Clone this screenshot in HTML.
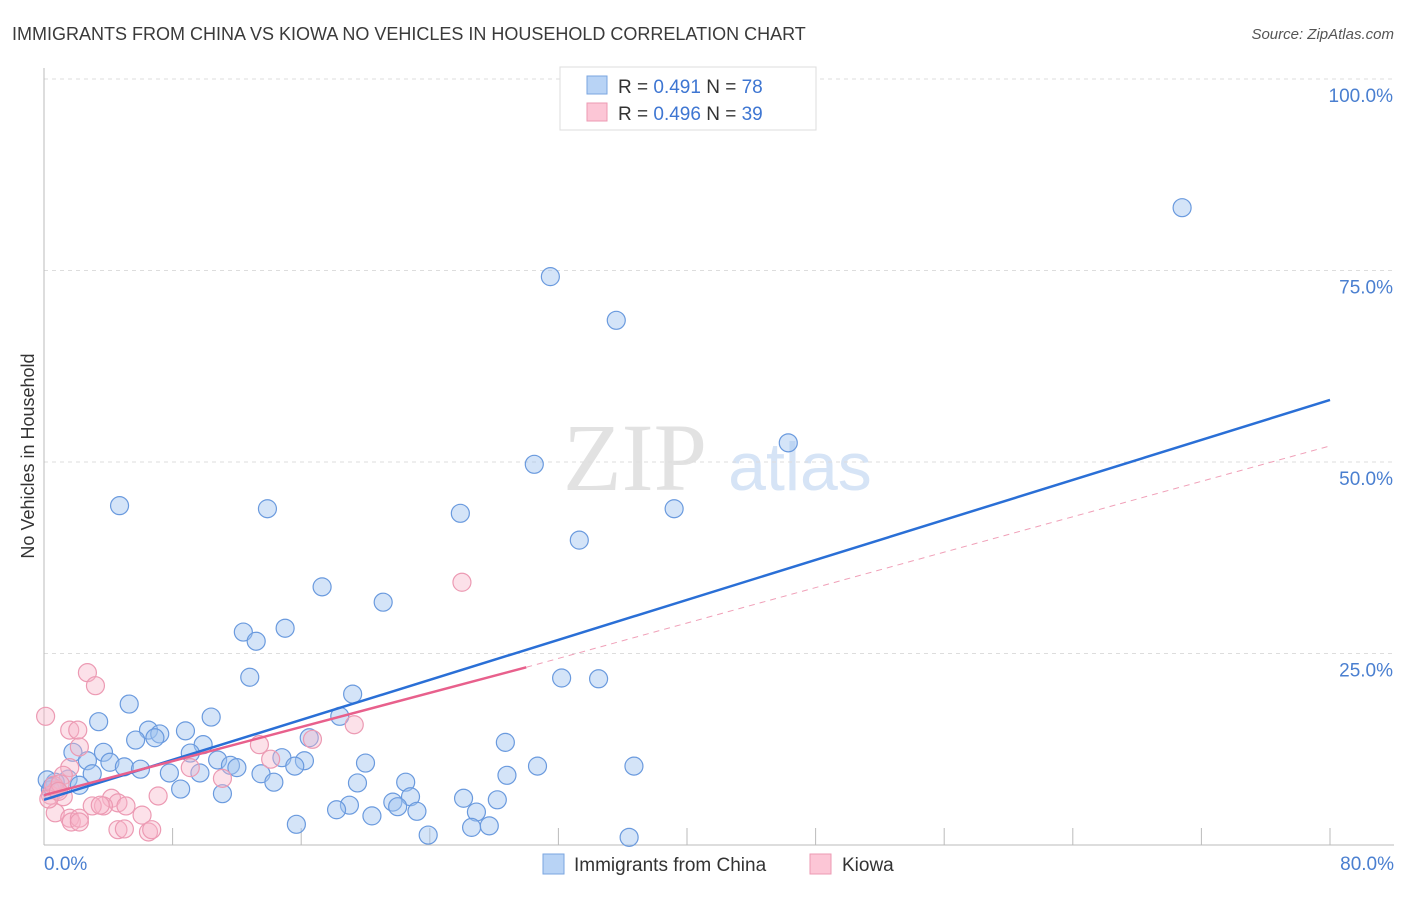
<!DOCTYPE html>
<html><head><meta charset="utf-8"><style>
body{margin:0;background:#fff;font-family:"Liberation Sans",sans-serif}
</style></head><body>
<svg width="1406" height="892" xmlns="http://www.w3.org/2000/svg" id="svg">
<text x="12" y="40" font-size="18" fill="#3a3a3a">IMMIGRANTS FROM CHINA VS KIOWA NO VEHICLES IN HOUSEHOLD CORRELATION CHART</text>
<text x="1394" y="39" font-size="15" fill="#555" font-style="italic" text-anchor="end">Source: ZipAtlas.com</text>
<text x="635" y="490" font-size="96" fill="#e2e2e2" font-family="Liberation Serif,serif" text-anchor="middle">ZIP</text>
<text x="800" y="490" font-size="68" fill="#d6e4f6" text-anchor="middle">atlas</text>
<g id="grid"></g><g id="pts"></g><g id="lines"></g>
<text transform="translate(34,456) rotate(-90)" font-size="18" fill="#333" text-anchor="middle">No Vehicles in Household</text>
<g>
<rect x="560" y="67" width="256" height="63" fill="#fff" stroke="#ddd"/>
<rect x="587" y="76" width="20" height="18" fill="#b8d3f5" stroke="#7aa6e0"/>
<rect x="587" y="103" width="20" height="18" fill="#fcc6d6" stroke="#ec9ab3"/>
<text x="618" y="93" font-size="19" fill="#333">R = <tspan fill="#3e76d2">0.491</tspan>   N = <tspan fill="#3e76d2">78</tspan></text>
<text x="618" y="120" font-size="19" fill="#333">R = <tspan fill="#3e76d2">0.496</tspan>   N = <tspan fill="#3e76d2">39</tspan></text>
</g>
<g>
<rect x="543" y="854" width="21" height="20" fill="#b8d3f5" stroke="#7aa6e0"/>
<text x="574" y="871" font-size="19" fill="#333">Immigrants from China</text>
<rect x="810" y="854" width="21" height="20" fill="#fcc6d6" stroke="#ec9ab3"/>
<text x="842" y="871" font-size="19" fill="#333">Kiowa</text>
</g>
</svg>
<script>
const yTicks=[25,50,75,100];
const xTickLabels=["0.0%","80.0%"];
const chinaX=[70.8,31.5,35.6,46.3,30.5,39.2,25.9,13.9,4.7,33.3,17.3,21.1,15.0,12.4,13.2,12.8,32.2,34.5,19.2,5.3,10.4,3.4,18.4,6.5,8.8,7.2,5.7,6.9,9.9,16.5,28.7,3.7,9.1,1.8,2.7,4.1,10.8,14.8,16.2,20.0,5.0,6.0,11.6,12.0,15.6,30.7,36.7,7.8,9.7,3.0,13.5,28.8,1.5,14.3,19.5,22.5,2.2,8.5,11.1,0.7,0.4,22.8,26.1,28.2,21.7,19.0,18.2,22.0,23.2,26.9,20.4,15.7,26.6,27.7,23.9,36.4,0.2,0.5];
const chinaY=[83.2,74.2,68.5,52.5,49.7,43.9,43.3,43.9,44.3,39.8,33.7,31.7,28.3,27.8,26.6,21.9,21.8,21.7,19.7,18.4,16.7,16.1,16.8,15.0,14.9,14.5,13.7,14.0,13.1,14.0,13.4,12.1,12.0,12.1,11.0,10.8,11.1,11.4,11.0,10.7,10.2,9.9,10.4,10.1,10.3,10.3,10.3,9.4,9.4,9.3,9.3,9.1,8.6,8.2,8.1,8.2,7.8,7.3,6.7,8.2,7.2,6.3,6.1,5.9,5.6,5.2,4.6,5.0,4.4,4.3,3.8,2.7,2.3,2.5,1.3,1.0,8.5,7.6];
const kiowaX=[26.0,2.7,3.2,0.1,1.6,2.1,19.3,2.2,16.7,13.4,14.1,9.1,1.6,1.2,11.1,0.8,0.4,1.2,7.1,4.2,4.6,5.1,3.7,3.0,3.5,6.1,0.7,1.6,1.7,2.2,2.2,4.6,5.0,6.5,6.7,0.6,0.3,1.0,0.9];
const kiowaY=[34.3,22.5,20.8,16.8,15.0,15.0,15.7,12.8,13.8,13.1,11.2,10.1,10.1,9.1,8.7,7.2,6.5,6.3,6.4,6.1,5.5,5.1,5.1,5.1,5.2,3.9,4.2,3.5,3.0,3.5,3.0,2.0,2.1,1.7,2.0,7.8,6.0,8.0,7.0];
const chinaLine=[[0,5.9],[80,58.1]];
const kiowaLine=[[0,6.5],[30,23.2]];
const kiowaDash=[[30,23.2],[80,52.1]];
const X=v=>44+v/80*1286, Y=v=>845-v/25*191.5;
const NS="http://www.w3.org/2000/svg";
function mk(t,a,p){const e=document.createElementNS(NS,t);for(const k in a)e.setAttribute(k,a[k]);p.appendChild(e);return e;}
const g=document.getElementById('grid');
yTicks.forEach(t=>{const l=mk('line',{x1:44,x2:1394,y1:Y(t),y2:Y(t),stroke:'#ddd','stroke-dasharray':'4,4'},g);


const tx=mk('text',{x:1393,y:Y(t)+23,'font-size':19,fill:'#4a7fd0','text-anchor':'end'},g);tx.textContent=t.toFixed(1)+'%';

});
mk('line',{x1:44,x2:44,y1:68,y2:845,stroke:'#bbb'},g);
mk('line',{x1:44,x2:1394,y1:845,y2:845,stroke:'#bbb'},g);
for(let i=1;i<=10;i++){const t=mk('line',{x1:X(i*8),x2:X(i*8),y1:828,y2:845,stroke:'#bbb'},g);

}
[[0,'start',44],[1,'end',1394]].forEach(([i,a,x])=>{const t=mk('text',{x:x,y:870,'font-size':19,fill:'#4a7fd0','text-anchor':a},g);t.textContent=xTickLabels[i];

});
const p=document.getElementById('pts');
chinaX.forEach((v,i)=>{const c=mk('circle',{cx:X(v),cy:Y(chinaY[i]),r:9,fill:'rgba(160,195,240,0.45)',stroke:'#6a9ade','stroke-width':1.2},p);

});
kiowaX.forEach((v,i)=>{const c=mk('circle',{cx:X(v),cy:Y(kiowaY[i]),r:9,fill:'rgba(248,180,200,0.4)',stroke:'#ec9ab3','stroke-width':1.2},p);

});
const L=document.getElementById('lines');
function ln(d,s,w,dash,n){const l=mk('line',{x1:X(d[0][0]),y1:Y(d[0][1]),x2:X(d[1][0]),y2:Y(d[1][1]),stroke:s,'stroke-width':w},L);if(dash)l.setAttribute('stroke-dasharray',dash);

}
ln(kiowaDash,'#f0a0b8',1,'6,5','kiowa-trend-extension');
ln(chinaLine,'#2a6fd6',2.5,null,'china-trend-line');
ln(kiowaLine,'#e8608c',2.5,null,'kiowa-trend-line');
</script>
</body></html>
